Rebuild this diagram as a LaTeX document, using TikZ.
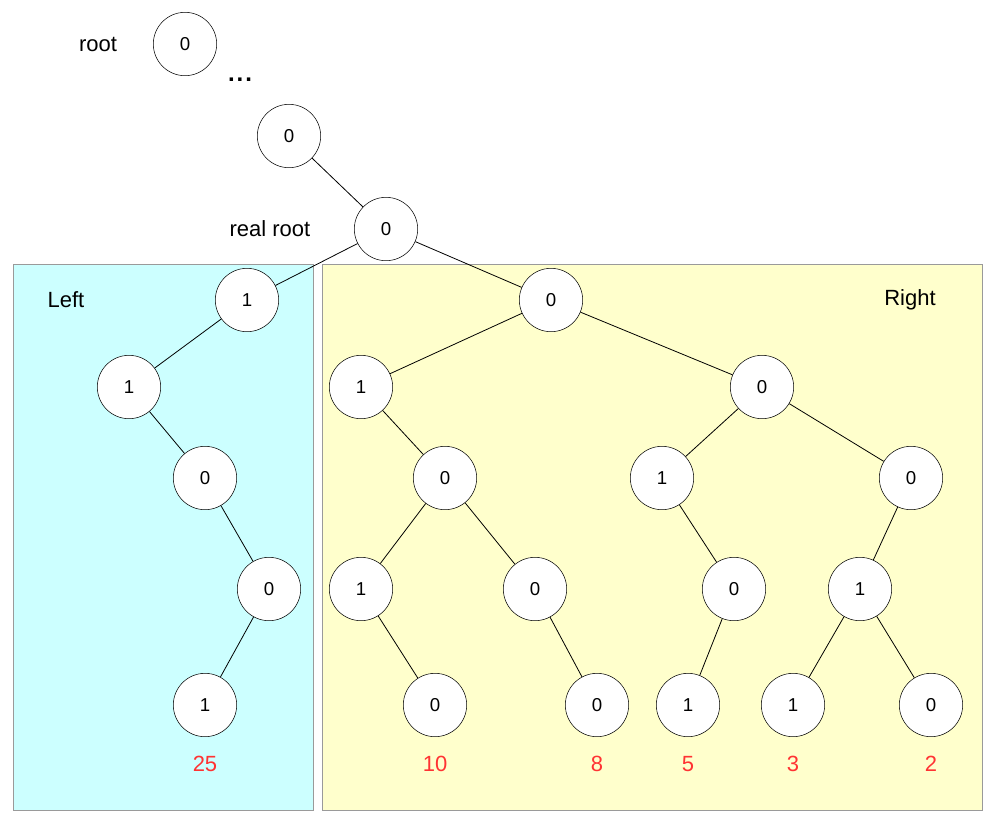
\documentclass[tikz,border=0pt]{standalone}
\usepackage{fontspec}
\setmainfont{Liberation Sans}
\definecolor{lcyan}{HTML}{CCFFFF}
\definecolor{lyellow}{HTML}{FFFFCC}
\definecolor{boxgrey}{HTML}{9A9A9A}
\definecolor{numred}{HTML}{FF3333}
\begin{document}
\begin{tikzpicture}[x=0.75pt,y=-0.75pt,
  tn/.style={circle,draw,fill=white,minimum size=47.5pt,inner sep=0pt,font=\fontsize{14}{16}\selectfont},
  lbl/.style={font=\fontsize{16.5}{19}\selectfont},
  cnt/.style={font=\fontsize{16.5}{19}\selectfont,text=numred},
  region/.style={draw=boxgrey,line width=0.8pt},
  edge/.style={line width=0.6pt}]
\useasboundingbox (0,0) rectangle (1000,822);
% regions
\node[region,fill=lcyan,minimum width=225pt,minimum height=409.5pt,inner sep=0pt,anchor=north west] (leftbox) at (12.5,264) {};
\node[region,fill=lyellow,minimum width=495pt,minimum height=409.5pt,inner sep=0pt,anchor=north west] (rightbox) at (321.5,264) {};
% labels
\node[lbl] (lroot) at (98,44) {root};
\node[lbl,font=\fontsize{18}{20}\bfseries] (dots) at (240,80) {.\kern1.5pt.\kern1.5pt.};
\node[lbl] (lreal) at (270,229) {real root};
\node[lbl] (lleft) at (66,300) {Left};
\node[lbl] (lright) at (910,300) {Right};
% nodes
\node[tn] (top) at (185,44) {0};
\node[tn] (mid) at (289,136) {0};
\node[tn] (rr) at (386,229) {0};
% left
\node[tn] (a1) at (247,300) {1};
\node[tn] (a2) at (129,387) {1};
\node[tn] (a3) at (205,478) {0};
\node[tn] (a4) at (269,589) {0};
\node[tn] (a5) at (205,705) {1};
% right
\node[tn] (b0) at (551,300) {0};
\node[tn] (b1) at (361,387) {1};
\node[tn] (b2) at (762,387) {0};
\node[tn] (b3) at (445,478) {0};
\node[tn] (b4) at (662,478) {1};
\node[tn] (b5) at (911,478) {0};
\node[tn] (b6) at (361,589) {1};
\node[tn] (b7) at (535,589) {0};
\node[tn] (b8) at (734,589) {0};
\node[tn] (b9) at (860,589) {1};
\node[tn] (c1) at (435,705) {0};
\node[tn] (c2) at (597,705) {0};
\node[tn] (c3) at (688,705) {1};
\node[tn] (c4) at (793,705) {1};
\node[tn] (c5) at (931,705) {0};
% counts
\node[cnt] (n25) at (205,764) {25};
\node[cnt] (n10) at (435,764) {10};
\node[cnt] (n8) at (597,764) {8};
\node[cnt] (n5) at (688,764) {5};
\node[cnt] (n3) at (793,764) {3};
\node[cnt] (n2) at (931,764) {2};
% edges
\draw[edge] (mid) -- (rr);
\draw[edge] (rr) -- (a1);
\draw[edge] (rr) -- (b0);
\draw[edge] (a1) -- (a2);
\draw[edge] (a2) -- (a3);
\draw[edge] (a3) -- (a4);
\draw[edge] (a4) -- (a5);
\draw[edge] (b0) -- (b1);
\draw[edge] (b0) -- (b2);
\draw[edge] (b1) -- (b3);
\draw[edge] (b3) -- (b6);
\draw[edge] (b3) -- (b7);
\draw[edge] (b6) -- (c1);
\draw[edge] (b7) -- (c2);
\draw[edge] (b2) -- (b4);
\draw[edge] (b2) -- (b5);
\draw[edge] (b4) -- (b8);
\draw[edge] (b8) -- (c3);
\draw[edge] (b5) -- (b9);
\draw[edge] (b9) -- (c4);
\draw[edge] (b9) -- (c5);
\end{tikzpicture}
\end{document}
